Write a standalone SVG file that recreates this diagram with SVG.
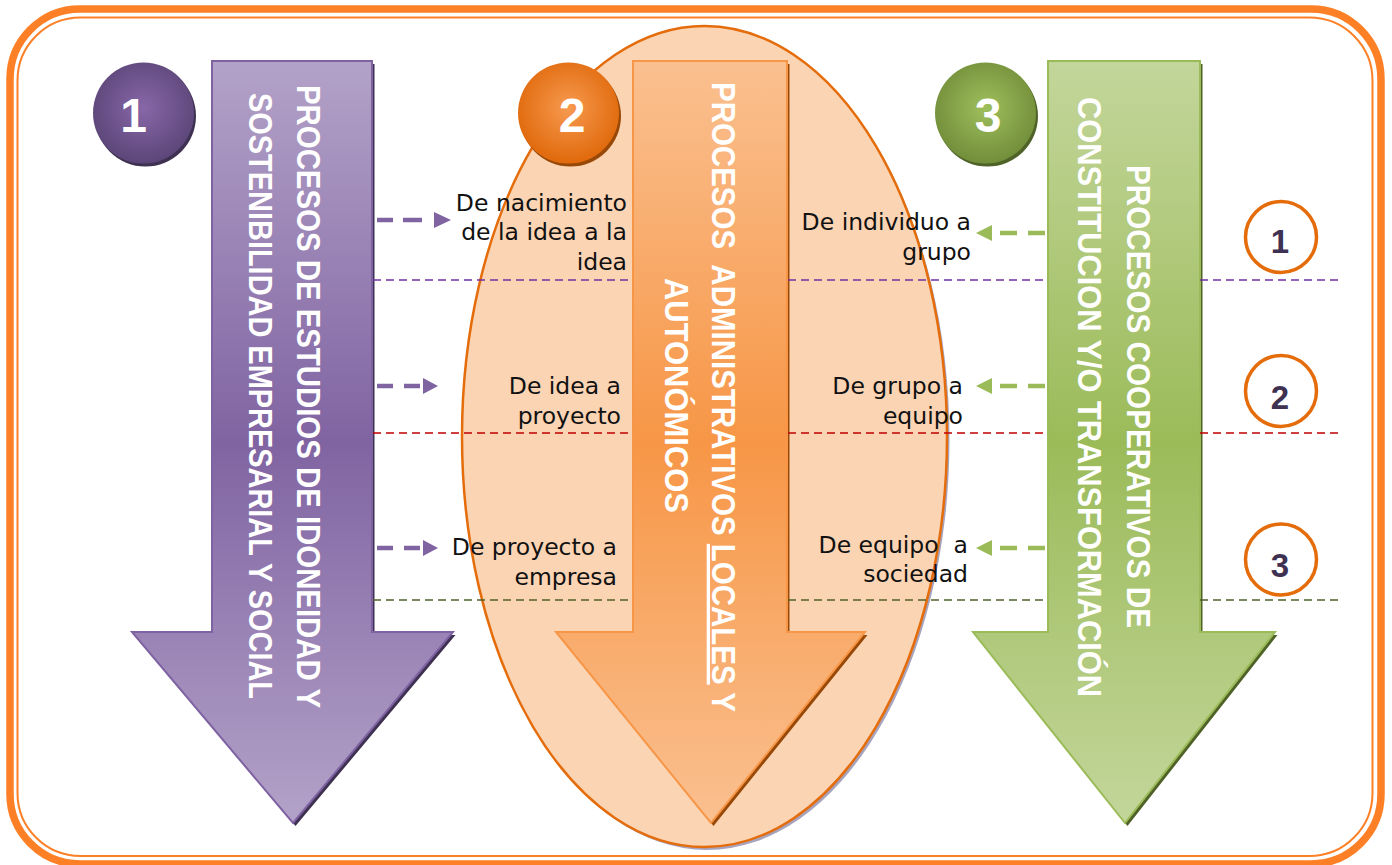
<svg xmlns="http://www.w3.org/2000/svg" width="1392" height="865" viewBox="0 0 1392 865">
<style>
.frame{fill:none;stroke:#fd8027}
.lbl{font-family:"DejaVu Sans",sans-serif;font-size:23.5px;fill:#111;text-anchor:end}
.vt{font-family:"Liberation Sans",Arial,sans-serif;font-weight:bold;font-size:33px;fill:#fff;text-anchor:middle}
.num{font-family:"Liberation Sans",Arial,sans-serif;font-weight:bold;font-size:48px;fill:#fff;text-anchor:middle}
.snum{font-family:"Liberation Sans",Arial,sans-serif;font-weight:bold;font-size:33px;fill:#3f3151;text-anchor:middle}
.ring{fill:#fff;stroke:#e46c0a;stroke-width:3.5}
.sep{fill:none;stroke-width:1.6;stroke-dasharray:8 5}
.pa{fill:none;stroke:#8064a2;stroke-width:4.5}
.pah{fill:#8064a2}
.ga{fill:none;stroke:#9bbb59;stroke-width:4.5}
.gah{fill:#9bbb59}
</style>
<defs>
<linearGradient id="gp" gradientUnits="userSpaceOnUse" x1="0" y1="61" x2="0" y2="823">
<stop offset="0" stop-color="#b3a2c8"/><stop offset="0.5" stop-color="#8064a2"/><stop offset="1" stop-color="#b3a2c8"/></linearGradient>
<linearGradient id="go" gradientUnits="userSpaceOnUse" x1="0" y1="61" x2="0" y2="823">
<stop offset="0" stop-color="#fac090"/><stop offset="0.5" stop-color="#f79646"/><stop offset="1" stop-color="#fac090"/></linearGradient>
<linearGradient id="gg" gradientUnits="userSpaceOnUse" x1="0" y1="61" x2="0" y2="823">
<stop offset="0" stop-color="#c3d69b"/><stop offset="0.5" stop-color="#9bbb59"/><stop offset="1" stop-color="#c3d69b"/></linearGradient>
<radialGradient id="rp" cx="0.5" cy="0.45" r="0.55"><stop offset="0" stop-color="#8767a8"/><stop offset="1" stop-color="#5c4678"/></radialGradient>
<radialGradient id="ro" cx="0.5" cy="0.45" r="0.55"><stop offset="0" stop-color="#f79a50"/><stop offset="1" stop-color="#e0690b"/></radialGradient>
<radialGradient id="rg" cx="0.5" cy="0.45" r="0.55"><stop offset="0" stop-color="#9fbf5c"/><stop offset="1" stop-color="#728e3a"/></radialGradient>
</defs>

<g id="frame">
<rect class="frame" x="10" y="9" width="1371" height="855" rx="70" stroke-width="7.5"/>
<rect class="frame" x="17.5" y="17.5" width="1355" height="838.5" rx="63" stroke-width="2"/>
</g>

<g id="ellipse">
<ellipse cx="707" cy="439.5" rx="242.5" ry="410.5" fill="#a7a3bd"/>
<ellipse cx="704.5" cy="436.5" rx="242.5" ry="410.5" fill="#fbd4b4" stroke="#e46c0a" stroke-width="2.5"/>
</g>

<g id="arrow1">
<path d="M212 61H372V632H453L293 823L132 632H212Z" fill="#3f3151" transform="translate(2.5,3)"/>
<path d="M212 61H372V632H453L293 823L132 632H212Z" fill="url(#gp)" stroke="#7f62a2" stroke-width="2"/>
<text class="vt" transform="translate(297,396.5) rotate(90)" textLength="623" lengthAdjust="spacingAndGlyphs">PROCESOS DE ESTUDIOS DE IDONEIDAD Y</text>
<text class="vt" transform="translate(249,396) rotate(90)" textLength="606" lengthAdjust="spacingAndGlyphs">SOSTENIBILIDAD EMPRESARIAL Y SOCIAL</text>
</g>

<g id="arrow2">
<path d="M633 61H787V632H865L711 823L556 632H633Z" fill="#984807" transform="translate(2.5,3)"/>
<path d="M633 61H787V632H865L711 823L556 632H633Z" fill="url(#go)" stroke="#f79646" stroke-width="2"/>
<text class="vt" xml:space="preserve" transform="translate(712,397) rotate(90)" textLength="630" lengthAdjust="spacingAndGlyphs">PROCESOS  ADMINISTRATIVOS <tspan text-decoration="underline">LOCALES</tspan> Y</text>
<text class="vt" transform="translate(665,395.5) rotate(90)" textLength="235" lengthAdjust="spacingAndGlyphs">AUTONÓMICOS</text>
</g>

<g id="arrow3">
<path d="M1048 61H1200V632H1275L1125 823L973 632H1048Z" fill="#4f6228" transform="translate(2.5,3)"/>
<path d="M1048 61H1200V632H1275L1125 823L973 632H1048Z" fill="url(#gg)" stroke="#9bbb59" stroke-width="2"/>
<text class="vt" transform="translate(1127,396.5) rotate(90)" textLength="463" lengthAdjust="spacingAndGlyphs">PROCESOS COOPERATIVOS DE</text>
<text class="vt" transform="translate(1078,397) rotate(90)" textLength="600" lengthAdjust="spacingAndGlyphs">CONSTITUCION Y/O TRANSFORMACIÓN</text>
</g>

<g id="connectors">
<path class="sep" stroke="#7030a0" d="M373 280H633M788 280H1048M1200 280H1342"/>
<path class="sep" stroke="#c00000" d="M373 433H633M788 433H1048M1200 433H1342"/>
<path class="sep" stroke="#4f6228" d="M373 600H633M788 600H1048M1200 600H1342"/>
<path class="pa" d="M377 220H393M403 220H422"/>
<path class="pah" d="M434 212L451 220L434 228Z"/>
<path class="pa" d="M377 386H393M404 386H420"/>
<path class="pah" d="M423 378L438 386L423 394Z"/>
<path class="pa" d="M377 548H393M404 548H420"/>
<path class="pah" d="M423 540L438 548L423 556Z"/>
<path class="ga" d="M1045 233H1028M1017 233H1000"/>
<path class="gah" d="M992 225L976 233L992 241Z"/>
<path class="ga" d="M1045 386H1028M1017 386H1000"/>
<path class="gah" d="M992 378L976 386L992 394Z"/>
<path class="ga" d="M1045 548H1028M1017 548H1000"/>
<path class="gah" d="M992 540L976 548L992 556Z"/>
</g>

<g id="badge1">
<circle cx="145.5" cy="116" r="50.5" fill="#3f3151"/>
<circle cx="143.5" cy="113" r="50.5" fill="url(#rp)"/>
<text class="num" x="133.5" y="132">1</text>
</g>
<g id="badge2">
<circle cx="570.5" cy="116" r="50.5" fill="#984807"/>
<circle cx="568.5" cy="113" r="50.5" fill="url(#ro)"/>
<text class="num" x="572" y="132">2</text>
</g>
<g id="badge3">
<circle cx="987.5" cy="116" r="50.5" fill="#4f6228"/>
<circle cx="985.5" cy="113" r="50.5" fill="url(#rg)"/>
<text class="num" x="988" y="132">3</text>
</g>

<g id="step1"><circle class="ring" cx="1281" cy="237" r="35.5"/><text class="snum" x="1280" y="253">1</text></g>
<g id="step2"><circle class="ring" cx="1281" cy="391" r="35.5"/><text class="snum" x="1280" y="409">2</text></g>
<g id="step3"><circle class="ring" cx="1281" cy="559.5" r="35.5"/><text class="snum" x="1280" y="577">3</text></g>

<g id="label-l1"><text class="lbl" x="627" y="211">De nacimiento</text><text class="lbl" x="627" y="240">de la idea a la</text><text class="lbl" x="627" y="270">idea</text></g>
<g id="label-l2"><text class="lbl" x="621" y="394">De idea a</text><text class="lbl" x="621" y="424">proyecto</text></g>
<g id="label-l3"><text class="lbl" x="617" y="555">De proyecto a</text><text class="lbl" x="617" y="585">empresa</text></g>
<g id="label-r1"><text class="lbl" x="971" y="230">De individuo a</text><text class="lbl" x="971" y="260">grupo</text></g>
<g id="label-r2"><text class="lbl" x="963" y="394">De grupo a</text><text class="lbl" x="963" y="424">equipo</text></g>
<g id="label-r3"><text class="lbl" xml:space="preserve" x="968" y="553">De equipo  a</text><text class="lbl" x="968" y="582">sociedad</text></g>
</svg>
